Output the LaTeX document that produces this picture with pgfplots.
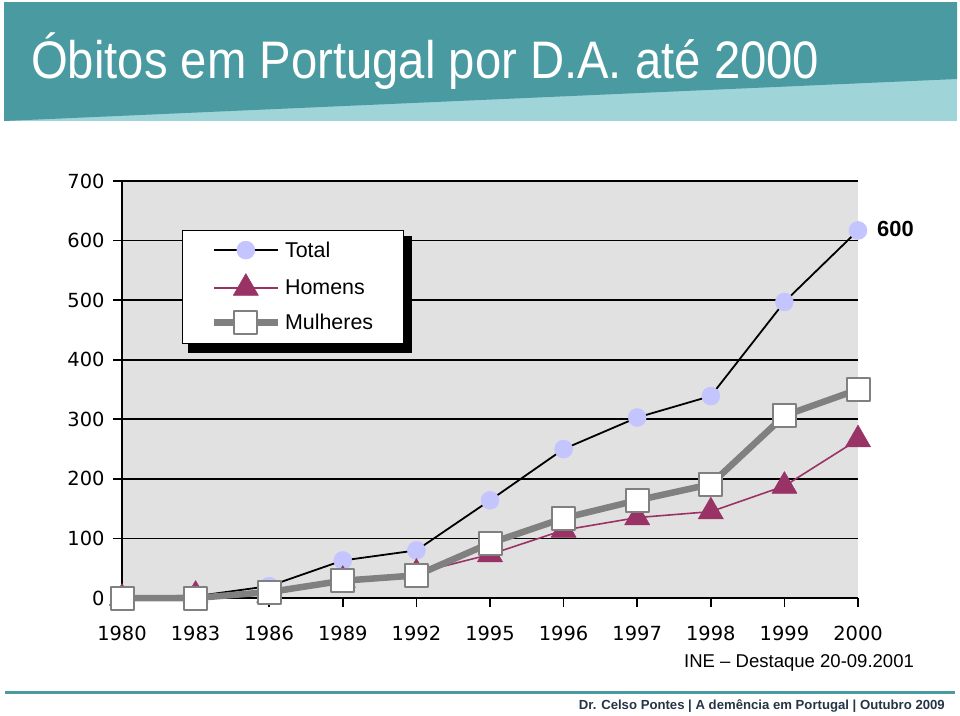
\documentclass[border=0pt]{standalone}
\usepackage{pgfplots}
\pgfplotsset{compat=1.18}
\usepackage{fontspec}
\setmainfont{Liberation Sans}
\newfontfamily\tickfont{DejaVu Sans}
\definecolor{tealdark}{HTML}{4A9AA1}
\definecolor{teallight}{HTML}{9FD4D9}
\definecolor{plotbg}{HTML}{E1E1E1}
\definecolor{lavender}{HTML}{C4C4FF}
\definecolor{homens}{HTML}{993366}
\definecolor{mulheres}{HTML}{808080}
\definecolor{footer}{HTML}{253545}
\begin{document}
\begin{tikzpicture}
\path[use as bounding box] (0,0) rectangle (960bp,-716bp);
\fill[teallight] (4bp,-2bp) rectangle (957bp,-121bp);
\fill[tealdark] (4bp,-2bp) -- (957bp,-2bp) -- (957bp,-79bp) -- (4bp,-121bp) -- cycle;
\node[anchor=base west, text=white, font=\fontsize{53}{60}\selectfont, inner sep=0pt] at (31bp,-78bp) {\scalebox{0.895}[1]{Óbitos em Portugal por D.A. até 2000}};
\begin{axis}[
  at={(122bp,-598bp)}, anchor=south west,
  scale only axis, width=736bp, height=417bp,
  xmin=0, xmax=10, ymin=0, ymax=700,
  clip=false,
  axis background/.style={fill=plotbg},
  axis x line*=bottom, axis y line*=left,
  axis line style={black, line width=1.6bp, -},
  xtick={0,...,10},
  xticklabels={1980,1983,1986,1989,1992,1995,1996,1997,1998,1999,2000},
  ytick={0,100,...,700},
  ymajorgrids, grid style={black, line width=1.6bp},
  tick align=outside,
  major tick length=9bp,
  tick style={black, line width=1.6bp},
  ticklabel style={font=\tickfont\fontsize{19.5}{22}\selectfont},
  /pgf/number format/assume math mode=true,
  xticklabel style={yshift=-16bp},
  yticklabel style={xshift=-5bp},
  legend style={at={(0.0815,0.8825)}, anchor=north west, draw=black, line width=1.2bp, fill=white,
    font=\fontsize{21.5}{24}\selectfont, row sep=13bp, column sep=2bp, inner xsep=28bp, inner ysep=9bp},
  legend cell align=left,
  legend image code/.code={\draw[mark repeat=2,mark phase=2] plot coordinates {(0bp,0bp) (32bp,0bp) (64bp,0bp)};},
  every axis plot/.append style={line join=round},
]
\fill[black] (axis description cs:0.0897,0.5875) rectangle (axis description cs:0.394,0.868);
\addplot[color=black, line width=1.8bp, mark=*, mark size=9bp, mark options={fill=lavender, draw=lavender, line width=0.5bp}]
  coordinates {(0,0) (1,3) (2,20) (3,63) (4,80) (5,164) (6,250) (7,303) (8,339) (9,497) (10,617)};
\addlegendentry{Total}
\addplot[color=homens, line width=1.6bp, mark=triangle*, mark size=14.5bp, mark options={fill=homens, draw=homens, line width=0.5bp}]
  coordinates {(0,0) (1,5) (2,5) (3,30) (4,42) (5,73) (6,114) (7,135) (8,145) (9,188) (10,266)};
\addlegendentry{Homens}
\addplot[color=mulheres, line width=6.5bp, mark=square*, mark size=11.5bp, mark options={fill=white, draw=mulheres, line width=2bp}]
  coordinates {(0,0) (1,0) (2,10) (3,29) (4,38) (5,92) (6,134) (7,164) (8,191) (9,306) (10,350)};
\addlegendentry{Mulheres}
\end{axis}
\node[anchor=west, font=\bfseries\fontsize{22}{26}\selectfont, inner sep=0pt] at (877bp,-229bp) {600};
\node[anchor=west, font=\fontsize{18.6}{22}\selectfont, inner sep=0pt] at (684bp,-663bp) {INE -- Destaque 20-09.2001};
\draw[tealdark, line width=3bp] (5bp,-692bp) -- (955bp,-692bp);
\node[anchor=east, text=footer, font=\bfseries\fontsize{13.2}{16}\selectfont, inner sep=0pt] at (945bp,-706bp) {Dr. Celso Pontes | A demência em Portugal | Outubro 2009};
\end{tikzpicture}
\end{document}
